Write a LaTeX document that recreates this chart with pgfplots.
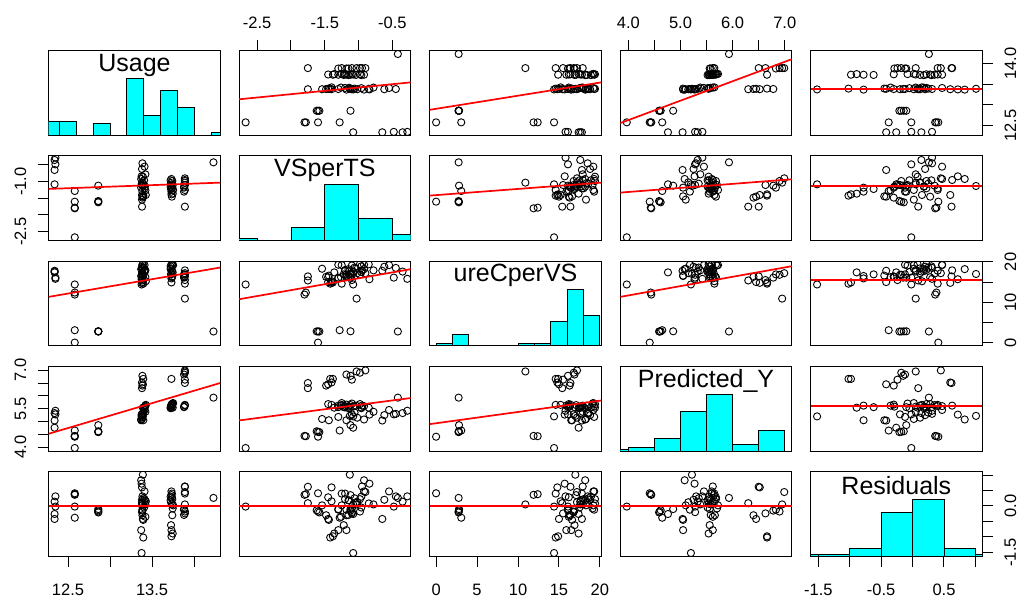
\documentclass[border=0pt]{standalone}
\usepackage{fontspec}
\setmainfont{Liberation Sans}
\usepackage{pgfplots}
\usepackage{pgfplotstable}
\pgfplotsset{compat=1.18}
\definecolor{rcyan}{RGB}{0,255,255}
\definecolor{rred}{RGB}{255,0,0}
\pgfplotstableread{
U V C P R
12.34 -1.08 17.4 4.76 -0.26
12.34 -0.65 17.8 5.04 -0.42
12.35 -0.48 16.1 5.28 -0.02
12.34 -0.35 17.6 5.33 0.14
12.35 -0.28 15.8 5.42 0.31
12.58 -2.67 14.4 3.97 -0.02
12.58 -1.60 0.0 4.41 0.41
12.58 -1.80 11.9 4.44 0.36
12.58 -1.28 3.07 4.65 -0.38
12.58 -1.78 12.4 4.43 0.38
12.86 -1.12 2.80 4.86 -0.10
12.86 -1.58 2.75 4.59 -0.21
12.86 -1.60 2.75 4.60 -0.18
12.86 -1.62 2.78 4.62 -0.14
14.23 -0.42 2.75 5.93 0.26
13.38 -1.75 15.4 6.30 0.09
13.39 -1.45 15.0 6.45 -0.42
13.38 -1.40 14.8 6.52 0.60
13.395 -1.42 14.6 6.66 -1.02
13.73 -1.38 14.9 6.66 -0.98
13.89 -1.75 16.4 6.50 0.62
13.89 -1.10 15.5 6.63 -0.24
13.88 -1.18 16.9 6.83 -0.12
13.89 -0.98 16.8 6.90 -0.18
13.89 -1.03 10.9 6.95 0.05
13.89 -0.90 17.2 6.99 0.45
13.385 -1.48 16.3 6.40 -0.30
13.385 -1.12 16.1 6.78 -0.15
13.385 -0.45 18.5 5.30 0.31
13.41 -0.55 19.2 5.45 0.47
13.38 -0.62 18.8 5.25 0.20
13.375 -0.84 15.7 5.27 0.72
13.42 -0.78 17.9 5.38 0.05
13.39 -1.13 17.0 5.22 1.01
13.37 -0.92 18.2 5.08 0.83
13.405 -0.96 17.5 5.52 -0.05
13.38 -1.02 17.2 5.15 0.12
13.395 -1.06 18.6 5.35 0.25
13.38 -1.10 16.8 5.28 -0.20
13.415 -1.14 17.7 5.58 0.18
13.37 -1.18 16.5 5.05 -0.78
13.39 -0.85 19.4 5.54 0.08
13.42 -1.26 16.2 5.62 -0.35
13.385 -1.30 19.3 5.18 -0.12
13.375 -1.08 14.4 5.20 -1.52
13.425 -1.40 15.2 5.65 0.15
13.395 -1.44 16.6 5.05 -0.45
13.38 -1.54 18.3 5.10 0.02
13.41 -1.20 18.0 5.55 0.22
13.73 -0.92 19.3 5.60 0.47
13.72 -0.96 18.9 5.55 0.30
13.74 -0.98 19.4 5.68 0.22
13.725 -1.04 18.4 5.62 0.12
13.735 -1.08 17.6 5.58 0.05
13.745 -1.10 19.1 5.70 -0.08
13.73 -1.12 17.1 5.64 0.35
13.72 -1.15 18.2 5.52 0.18
13.74 -1.18 16.4 5.66 -0.30
13.735 -1.20 17.8 5.60 0.40
13.725 -1.22 16.9 5.56 -0.62
13.75 -1.25 19.2 5.72 0.02
13.73 -1.30 15.9 5.62 -0.78
13.745 -1.36 17.4 5.54 -0.89
13.735 -1.45 16.2 5.68 0.28
13.89 -0.95 17.9 5.62 0.63
13.88 -1.15 16.3 5.58 -0.29
13.89 -1.25 14.6 5.65 0.40
13.88 -1.30 16.1 5.56 -0.10
}\data
\def\Umin{12.27}\def\Umax{14.31}
\def\Vmin{-2.765}\def\Vmax{-0.23}
\def\Cmin{-0.77}\def\Cmax{20.17}
\def\Pmin{3.846}\def\Pmax{7.135}
\def\Rmin{-1.623}\def\Rmax{1.107}
\pgfplotsset{
  panel/.style={scale only axis, width=171.5pt, height=84.5pt, anchor=south west,
    clip marker paths=true,
    xtick=\empty, ytick=\empty,
    axis line style={line width=1pt, black},
    tick style={line width=1pt, black},
    tick align=outside, major tick length=11pt,
    ticklabel style={font=\fontsize{16.5}{16.5}\selectfont},
    ticklabel shift=8pt},
  pts/.style={only marks, mark=o, mark size=3.6pt, mark options={line width=0.9pt, black}},
  fit/.style={draw=rred, line width=1.7pt, no marks},
  hst/.style={ybar interval, fill=rcyan, draw=black, line width=0.9pt},
  toplab/.style={xtick pos=right, xticklabel pos=right, xticklabel shift=7pt},
  botlab/.style={xtick pos=left, xticklabel pos=left, xticklabel shift=13pt},
  leftlab/.style={ytick pos=left, yticklabel pos=left, yticklabel style={rotate=90, anchor=south}},
  rightlab/.style={ytick pos=right, yticklabel pos=right, yticklabel style={rotate=90, anchor=north}},
}
\newcommand{\diag}[1]{\node[font=\fontsize{25}{25}\selectfont] at (rel axis cs:0.5,0.83) {#1};}
\begin{document}
\begin{tikzpicture}
\useasboundingbox (0,0) rectangle (1023pt,599pt);
% ---------------- row 1 : Usage
\begin{axis}[panel, at={(48.7pt,463.8pt)}, xmin=\Umin, xmax=\Umax, ymin=0, ymax=1.5]
\addplot[hst] coordinates {(12.2,0.25) (12.4,0.25) (12.6,0) (12.8,0.2) (13.0,0) (13.2,1) (13.4,0.35) (13.6,0.8) (13.8,0.5) (14.0,0) (14.2,0.05) (14.4,0)};
\diag{Usage}
\end{axis}
\begin{axis}[panel, at={(239.2pt,463.8pt)}, xmin=\Vmin, xmax=\Vmax, ymin=\Umin, ymax=\Umax, toplab,
  xtick={-2.5,-2,-1.5,-1,-0.5}, xticklabels={-2.5,,-1.5,,-0.5}]
\addplot[pts] table[x=V,y=U]{\data};
\addplot[fit] coordinates {(\Vmin,13.137) (\Vmax,13.545)};
\end{axis}
\begin{axis}[panel, at={(429.8pt,463.8pt)}, xmin=\Cmin, xmax=\Cmax, ymin=\Umin, ymax=\Umax]
\addplot[pts] table[x=C,y=U]{\data};
\addplot[fit] coordinates {(\Cmin,12.883) (\Cmax,13.545)};
\end{axis}
\begin{axis}[panel, at={(620.3pt,463.8pt)}, xmin=\Pmin, xmax=\Pmax, ymin=\Umin, ymax=\Umax, toplab,
  xtick={4,4.5,5,5.5,6,6.5,7}, xticklabels={4.0,,5.0,,6.0,,7.0}]
\addplot[pts] table[x=P,y=U]{\data};
\addplot[fit] coordinates {(\Pmin,12.562) (\Pmax,14.105)};
\end{axis}
\begin{axis}[panel, at={(810.6pt,463.8pt)}, xmin=\Rmin, xmax=\Rmax, ymin=\Umin, ymax=\Umax, rightlab,
  ytick={12.5,13,13.5,14}, yticklabels={12.5,,,14.0}]
\addplot[pts] table[x=R,y=U]{\data};
\addplot[fit] coordinates {(\Rmin,13.377) (\Rmax,13.377)};
\end{axis}
% ---------------- row 2 : VSperTS
\begin{axis}[panel, at={(48.7pt,358.5pt)}, xmin=\Umin, xmax=\Umax, ymin=\Vmin, ymax=\Vmax, leftlab,
  ytick={-2.5,-2,-1.5,-1,-0.5}, yticklabels={-2.5,,,-1.0,}]
\addplot[pts] table[x=U,y=V]{\data};
\addplot[fit] coordinates {(\Umin,-1.218) (\Umax,-1.029)};
\end{axis}
\begin{axis}[panel, at={(239.2pt,358.5pt)}, xmin=\Vmin, xmax=\Vmax, ymin=0, ymax=1.5]
\addplot[hst] coordinates {(-3,0.03) (-2.5,0) (-2,0.224) (-1.5,1) (-1,0.397) (-0.5,0.115) (0,0)};
\diag{VSperTS}
\end{axis}
\begin{axis}[panel, at={(429.8pt,358.5pt)}, xmin=\Cmin, xmax=\Cmax, ymin=\Vmin, ymax=\Vmax]
\addplot[pts] table[x=C,y=V]{\data};
\addplot[fit] coordinates {(\Cmin,-1.418) (\Cmax,-1.029)};
\end{axis}
\begin{axis}[panel, at={(620.3pt,358.5pt)}, xmin=\Pmin, xmax=\Pmax, ymin=\Vmin, ymax=\Vmax]
\addplot[pts] table[x=P,y=V]{\data};
\addplot[fit] coordinates {(\Pmin,-1.328) (\Pmax,-0.928)};
\end{axis}
\begin{axis}[panel, at={(810.6pt,358.5pt)}, xmin=\Rmin, xmax=\Rmax, ymin=\Vmin, ymax=\Vmax]
\addplot[pts] table[x=R,y=V]{\data};
\addplot[fit] coordinates {(\Rmin,-1.128) (\Rmax,-1.128)};
\end{axis}
% ---------------- row 3 : ureCperVS
\begin{axis}[panel, at={(48.7pt,253.3pt)}, xmin=\Umin, xmax=\Umax, ymin=\Cmin, ymax=\Cmax]
\addplot[pts] table[x=U,y=C]{\data};
\addplot[fit] coordinates {(\Umin,11.33) (\Umax,18.6)};
\end{axis}
\begin{axis}[panel, at={(239.2pt,253.3pt)}, xmin=\Vmin, xmax=\Vmax, ymin=\Cmin, ymax=\Cmax]
\addplot[pts] table[x=V,y=C]{\data};
\addplot[fit] coordinates {(\Vmin,10.75) (\Vmax,18.19)};
\end{axis}
\begin{axis}[panel, at={(429.8pt,253.3pt)}, xmin=\Cmin, xmax=\Cmax, ymin=0, ymax=1.5]
\addplot[hst] coordinates {(0,0.033) (2,0.2) (4,0) (6,0) (8,0) (10,0.033) (12,0.033) (14,0.433) (16,1) (18,0.533) (20,0)};
\diag{ureCperVS}
\end{axis}
\begin{axis}[panel, at={(620.3pt,253.3pt)}, xmin=\Pmin, xmax=\Pmax, ymin=\Cmin, ymax=\Cmax]
\addplot[pts] table[x=P,y=C]{\data};
\addplot[fit] coordinates {(\Pmin,11.33) (\Pmax,18.93)};
\end{axis}
\begin{axis}[panel, at={(810.6pt,253.3pt)}, xmin=\Rmin, xmax=\Rmax, ymin=\Cmin, ymax=\Cmax, rightlab,
  ytick={0,5,10,15,20}, yticklabels={0,,10,,20}]
\addplot[pts] table[x=R,y=C]{\data};
\addplot[fit] coordinates {(\Rmin,15.46) (\Rmax,15.46)};
\end{axis}
% ---------------- row 4 : Predicted_Y
\begin{axis}[panel, at={(48.7pt,147.8pt)}, xmin=\Umin, xmax=\Umax, ymin=\Pmin, ymax=\Pmax, leftlab,
  ytick={4,4.5,5,5.5,6,6.5,7}, yticklabels={4.0,,,5.5,,,7.0}]
\addplot[pts] table[x=U,y=P]{\data};
\addplot[fit] coordinates {(\Umin,4.525) (\Umax,6.50)};
\end{axis}
\begin{axis}[panel, at={(239.2pt,147.8pt)}, xmin=\Vmin, xmax=\Vmax, ymin=\Pmin, ymax=\Pmax]
\addplot[pts] table[x=V,y=P]{\data};
\addplot[fit] coordinates {(\Vmin,5.044) (\Vmax,5.915)};
\end{axis}
\begin{axis}[panel, at={(429.8pt,147.8pt)}, xmin=\Cmin, xmax=\Cmax, ymin=\Pmin, ymax=\Pmax]
\addplot[pts] table[x=C,y=P]{\data};
\addplot[fit] coordinates {(\Cmin,4.90) (\Cmax,5.82)};
\end{axis}
\begin{axis}[panel, at={(620.3pt,147.8pt)}, xmin=\Pmin, xmax=\Pmax, ymin=0, ymax=1.5]
\addplot[hst] coordinates {(3.5,0.03) (4,0.066) (4.5,0.229) (5,0.711) (5.5,1) (6,0.127) (6.5,0.367) (7,0)};
\diag{Predicted\_Y}
\end{axis}
\begin{axis}[panel, at={(810.6pt,147.8pt)}, xmin=\Rmin, xmax=\Rmax, ymin=\Pmin, ymax=\Pmax]
\addplot[pts] table[x=R,y=P]{\data};
\addplot[fit] coordinates {(\Rmin,5.615) (\Rmax,5.615)};
\end{axis}
% ---------------- row 5 : Residuals
\begin{axis}[panel, at={(48.7pt,42.8pt)}, xmin=\Umin, xmax=\Umax, ymin=\Rmin, ymax=\Rmax, botlab,
  xtick={12.5,13,13.5,14}, xticklabels={12.5,,13.5,}]
\addplot[pts] table[x=U,y=R]{\data};
\addplot[fit] coordinates {(\Umin,-0.01) (\Umax,-0.01)};
\end{axis}
\begin{axis}[panel, at={(239.2pt,42.8pt)}, xmin=\Vmin, xmax=\Vmax, ymin=\Rmin, ymax=\Rmax]
\addplot[pts] table[x=V,y=R]{\data};
\addplot[fit] coordinates {(\Vmin,-0.01) (\Vmax,-0.01)};
\end{axis}
\begin{axis}[panel, at={(429.8pt,42.8pt)}, xmin=\Cmin, xmax=\Cmax, ymin=\Rmin, ymax=\Rmax, botlab,
  xtick={0,5,10,15,20}, xticklabels={0,5,10,15,20}]
\addplot[pts] table[x=C,y=R]{\data};
\addplot[fit] coordinates {(\Cmin,-0.01) (\Cmax,-0.01)};
\end{axis}
\begin{axis}[panel, at={(620.3pt,42.8pt)}, xmin=\Pmin, xmax=\Pmax, ymin=\Rmin, ymax=\Rmax]
\addplot[pts] table[x=P,y=R]{\data};
\addplot[fit] coordinates {(\Pmin,-0.01) (\Pmax,-0.01)};
\end{axis}
\begin{axis}[panel, at={(810.6pt,42.8pt)}, xmin=\Rmin, xmax=\Rmax, ymin=0, ymax=1.5, botlab,
  xtick={-1.5,-1,-0.5,0,0.5,1}, xticklabels={-1.5,,-0.5,,0.5,}]
\addplot[hst] coordinates {(-2,0.031) (-1.5,0.031) (-1,0.144) (-0.5,0.772) (0,1) (0.5,0.144) (1,0.031) (1.5,0)};
\diag{Residuals}
\end{axis}
\begin{axis}[panel, at={(810.6pt,42.8pt)}, xmin=\Rmin, xmax=\Rmax, ymin=\Rmin, ymax=\Rmax, rightlab,
  ytick={-1.5,-1,-0.5,0,0.5,1}, yticklabels={-1.5,,,0.0,,}]
\addplot[draw=none] coordinates {(0,0)};
\end{axis}
\end{tikzpicture}
\end{document}
